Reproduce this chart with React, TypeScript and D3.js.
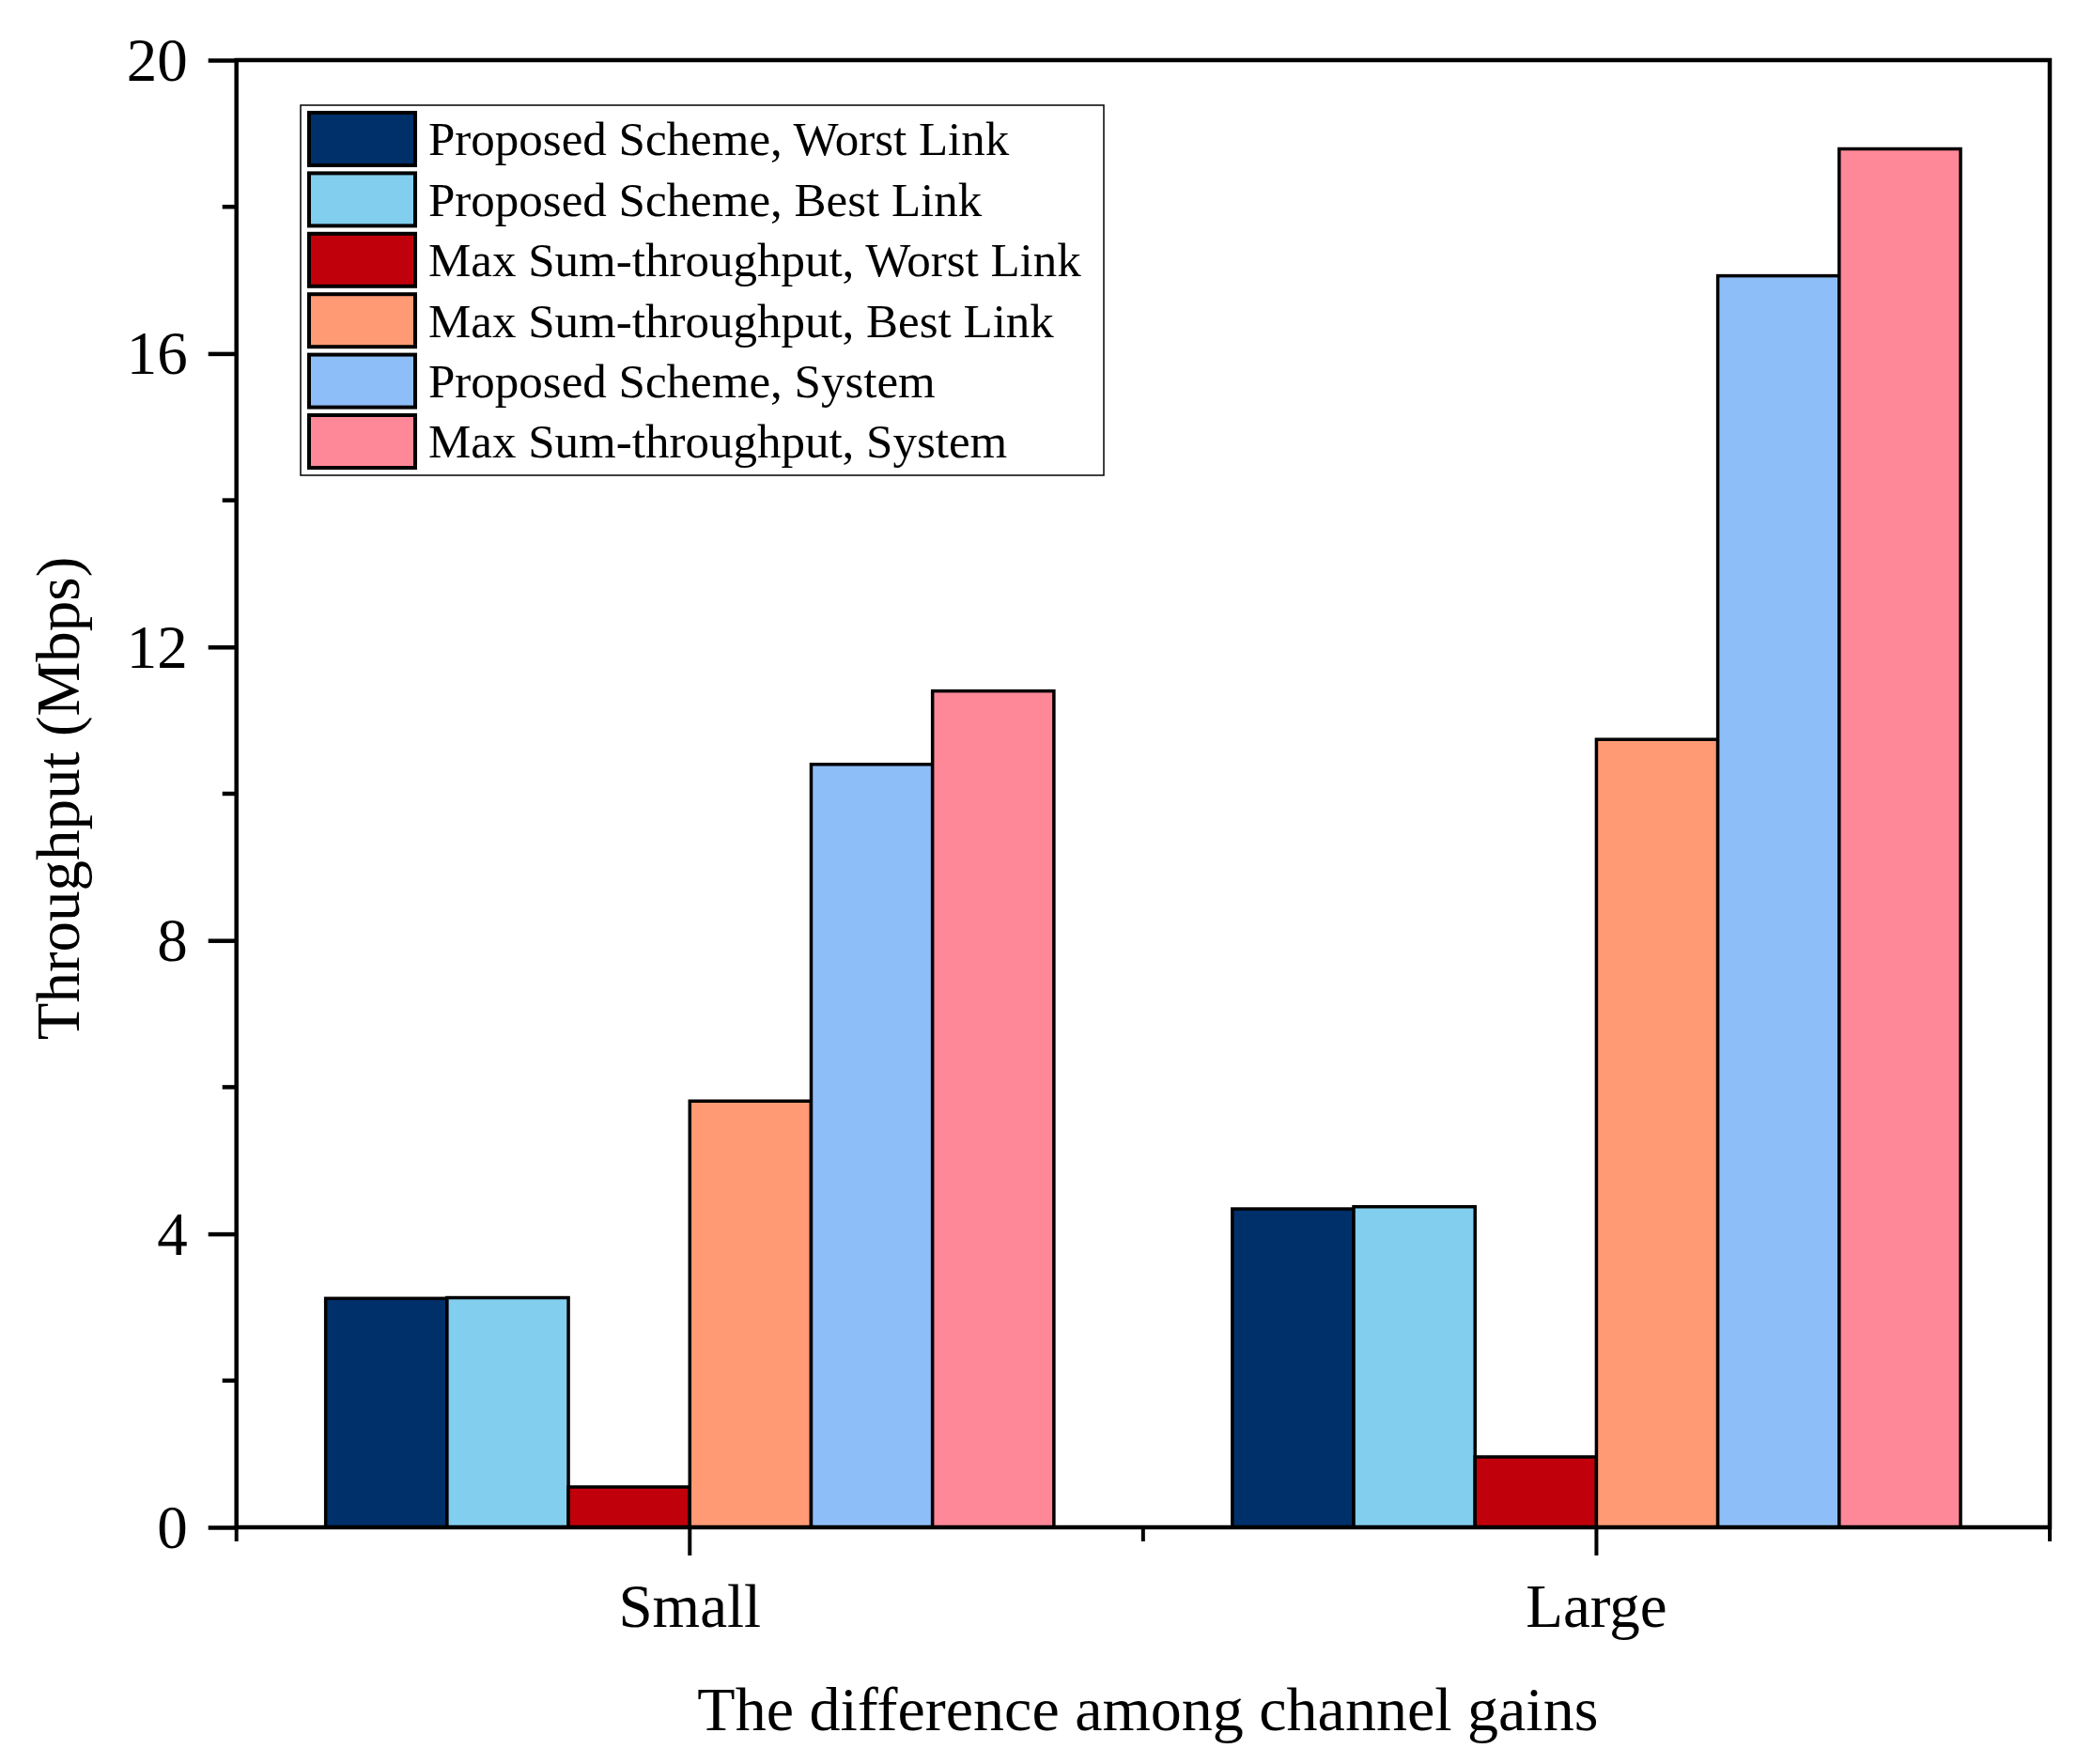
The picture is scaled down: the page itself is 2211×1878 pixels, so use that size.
import React, { useRef, useEffect } from 'react';
import * as d3 from 'd3';

const categories = ['Small', 'Large'];
const seriesNames = [
    'Proposed Scheme, Worst Link',
    'Proposed Scheme, Best Link',
    'Max Sum-throughput, Worst Link',
    'Max Sum-throughput, Best Link',
    'Proposed Scheme, System',
    'Max Sum-throughput, System',
];
const seriesColors = ['#00306A', '#82CEEE', '#C0000B', '#FF9A74', '#8EBEF8', '#FF8898'];
const smallValues = [3.12, 3.13, 0.55, 5.81, 10.4, 11.4];
const largeValues = [4.34, 4.37, 0.96, 10.74, 17.06, 18.79];
const yMajorTicks = [0, 4, 8, 12, 16, 20];
const yMinorTicks = [2, 6, 10, 14, 18];

const W = 2211;
const H = 1878;
const FONT = '"Liberation Serif", "Times New Roman", serif';

export default function App() {
    const svgRef: { current: SVGSVGElement | null } = useRef(null);

    useEffect(() => {
        const svg = d3.select(svgRef.current);
        svg.selectAll('*').remove();

        const left = 251.7;
        const right = 2182;
        const top = 64;
        const bottom = 1626;

        const x = d3.scaleBand<string>().domain(categories).range([left, right]).padding(0);
        const inner = d3
            .scaleBand<number>()
            .domain(d3.range(seriesNames.length))
            .range([0, x.bandwidth()])
            .paddingInner(0)
            .paddingOuter(0.735);
        const y = d3.scaleLinear().domain([0, 20]).range([bottom, top]);

        const rows = categories.map((c, i) => ({
            cat: c,
            values: i === 0 ? smallValues : largeValues,
        }));

        // bars
        const groups = svg
            .selectAll('.grp')
            .data(rows)
            .join('g')
            .attr('class', 'grp')
            .attr('transform', (d) => `translate(${x(d.cat)},0)`);
        groups
            .selectAll('rect')
            .data((d) => d.values)
            .join('rect')
            .attr('x', (_, i) => inner(i) as number)
            .attr('width', inner.bandwidth())
            .attr('y', (v) => y(v))
            .attr('height', (v) => y(0) - y(v))
            .attr('fill', (_, i) => seriesColors[i])
            .attr('stroke', '#000')
            .attr('stroke-width', 3.5);

        // y axis
        const yAxis = d3
            .axisLeft(y)
            .tickValues(yMajorTicks)
            .tickSize(30)
            .tickSizeOuter(0)
            .tickPadding(22)
            .tickFormat(d3.format('d'));
        const gy = svg.append('g').attr('transform', `translate(${left},0)`).call(yAxis);
        gy.select('.domain').remove();
        gy.selectAll('line').attr('stroke', '#000').attr('stroke-width', 4.5);
        gy.selectAll('text')
            .attr('font-family', FONT)
            .attr('font-size', 65)
            .attr('fill', '#000')
            .attr('dy', '0.33em');
        svg.append('g')
            .selectAll('line')
            .data(yMinorTicks)
            .join('line')
            .attr('x1', left - 15)
            .attr('x2', left)
            .attr('y1', (d) => y(d))
            .attr('y2', (d) => y(d))
            .attr('stroke', '#000')
            .attr('stroke-width', 4.5);

        // x axis
        const xAxis = d3.axisBottom(x).tickSize(30).tickSizeOuter(0).tickPadding(30);
        const gx = svg.append('g').attr('transform', `translate(0,${bottom})`).call(xAxis);
        gx.select('.domain').remove();
        gx.selectAll('line').attr('stroke', '#000').attr('stroke-width', 4);
        gx.selectAll('text')
            .attr('font-family', FONT)
            .attr('font-size', 65)
            .attr('fill', '#000')
            .attr('dy', '0.71em');
        const bounds = [left, ...categories.map((c) => (x(c) as number) + x.bandwidth())];
        svg.append('g')
            .selectAll('line')
            .data(bounds)
            .join('line')
            .attr('x1', (d) => d)
            .attr('x2', (d) => d)
            .attr('y1', bottom)
            .attr('y2', bottom + 15)
            .attr('stroke', '#000')
            .attr('stroke-width', 4);

        // frame
        svg.append('rect')
            .attr('x', left)
            .attr('y', top)
            .attr('width', right - left)
            .attr('height', bottom - top)
            .attr('fill', 'none')
            .attr('stroke', '#000')
            .attr('stroke-width', 4.5);

        // titles
        svg.append('text')
            .attr('x', (left + right) / 2 + 5)
            .attr('y', 1842)
            .attr('text-anchor', 'middle')
            .attr('font-family', FONT)
            .attr('font-size', 66)
            .text('The difference among channel gains');
        svg.append('text')
            .attr('transform', `translate(84,850) rotate(-90)`)
            .attr('text-anchor', 'middle')
            .attr('font-family', FONT)
            .attr('font-size', 65)
            .text('Throughput (Mbps)');

        // legend
        const lg = svg.append('g');
        lg.append('rect')
            .attr('x', 320)
            .attr('y', 112)
            .attr('width', 855)
            .attr('height', 394)
            .attr('fill', '#fff')
            .attr('stroke', '#000')
            .attr('stroke-width', 1.5);
        const items = lg
            .selectAll('.item')
            .data(seriesNames)
            .join('g')
            .attr('class', 'item')
            .attr('transform', (_, i) => `translate(0,${148 + i * 64.4})`);
        items
            .append('rect')
            .attr('x', 329)
            .attr('y', -28)
            .attr('width', 113)
            .attr('height', 56)
            .attr('fill', (_, i) => seriesColors[i])
            .attr('stroke', '#000')
            .attr('stroke-width', 4);
        items
            .append('text')
            .attr('x', 456)
            .attr('y', 0)
            .attr('dy', '0.34em')
            .attr('font-family', FONT)
            .attr('font-size', 51)
            .text((d) => d);
    }, []);

    return (
        <svg
            ref={svgRef}
            width={W}
            height={H}
            viewBox={`0 0 ${W} ${H}`}
            style={{ position: 'absolute', left: 0, top: 0, background: '#fff' }}
        />
    );
}
